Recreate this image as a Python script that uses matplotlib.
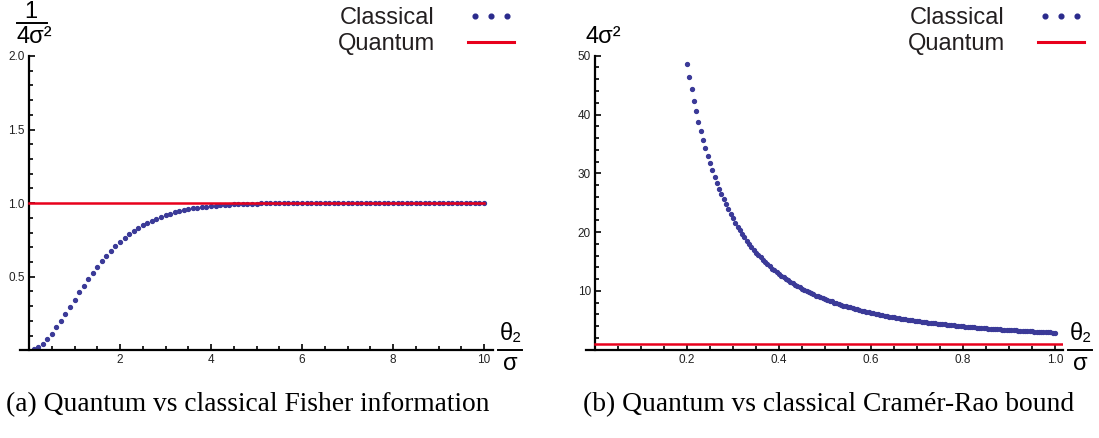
#!/usr/bin/env python3
# -*- coding: utf-8 -*-
"""
Quantum vs classical Fisher information / Cramer-Rao bound (two panels)
"""

import matplotlib
matplotlib.use('Agg')
import matplotlib.pyplot as plt
from matplotlib.lines import Line2D
from matplotlib.legend_handler import HandlerLine2D
import numpy as np

plt.rcParams['font.family'] = ['Liberation Sans', 'DejaVu Sans']

# ---- data (a): classical Fisher information, theta2/sigma = 0.1 ... 10.0
classical_fisher = [
    0.006, 0.022, 0.046, 0.077, 0.113, 0.156, 0.201, 0.249, 0.296, 0.345,
    0.394, 0.440, 0.484, 0.526, 0.566, 0.605, 0.641, 0.675, 0.707, 0.737,
    0.764, 0.789, 0.811, 0.831, 0.849, 0.866, 0.881, 0.895, 0.907, 0.918,
    0.928, 0.937, 0.945, 0.952, 0.958, 0.964, 0.969, 0.973, 0.977, 0.980,
    0.983, 0.986, 0.988, 0.990, 0.992, 0.993, 0.994, 0.995, 0.996, 0.997,
    0.998, 0.998, 0.999, 0.999, 0.999, 1.0, 1.0, 1.0, 1.0, 1.0,
    1.0, 1.0, 1.0, 1.0, 1.0, 1.0, 1.0, 1.0, 1.0, 1.0,
    1.0, 1.0, 1.0, 1.0, 1.0, 1.0, 1.0, 1.0, 1.0, 1.0,
    1.0, 1.0, 1.0, 1.0, 1.0, 1.0, 1.0, 1.0, 1.0, 1.0,
    1.0, 1.0, 1.0, 1.0, 1.0, 1.0, 1.0, 1.0, 1.0, 1.0,
]
fisher_x_range = (0.1, 10.0)
quantum_fisher_x = [0.0, 10.0]
quantum_fisher = [1.0, 1.0]

# ---- data (b): classical Cramer-Rao bound, theta2/sigma = 0.200 ... 1.000
classical_bound = [
    48.6, 46.4, 44.3, 42.3, 40.6, 38.8, 37.2, 35.7, 34.3, 32.9,
    31.8, 30.6, 29.4, 28.4, 27.4, 26.5, 25.6, 24.8, 23.9, 23.1,
    22.4, 21.6, 20.9, 20.3, 19.7, 19.1, 18.5, 18.0, 17.5, 17.0,
    16.5, 16.1, 15.7, 15.3, 14.9, 14.5, 14.2, 13.8, 13.5, 13.2,
    12.9, 12.6, 12.3, 12.0, 11.8, 11.5, 11.3, 11.0, 10.8, 10.6,
    10.4, 10.2, 10.0, 9.8, 9.6, 9.4, 9.2, 9.1, 8.9, 8.8,
    8.6, 8.5, 8.3, 8.2, 8.0, 7.9, 7.8, 7.6, 7.5, 7.4,
    7.3, 7.2, 7.1, 7.0, 6.85, 6.75, 6.65, 6.55, 6.46, 6.37,
    6.28, 6.19, 6.11, 6.02, 5.94, 5.86, 5.79, 5.71, 5.64, 5.57,
    5.50, 5.43, 5.36, 5.30, 5.23, 5.17, 5.11, 5.05, 4.99, 4.93,
    4.88, 4.82, 4.77, 4.72, 4.67, 4.62, 4.57, 4.52, 4.47, 4.42,
    4.38, 4.33, 4.29, 4.25, 4.20, 4.16, 4.12, 4.08, 4.04, 4.01,
    3.97, 3.93, 3.90, 3.86, 3.83, 3.79, 3.76, 3.72, 3.69, 3.66,
    3.63, 3.60, 3.57, 3.54, 3.51, 3.48, 3.45, 3.43, 3.40, 3.37,
    3.35, 3.32, 3.29, 3.27, 3.24, 3.22, 3.20, 3.17, 3.15, 3.13,
    3.11, 3.08, 3.06, 3.04, 3.02, 3.00, 2.98, 2.96, 2.94, 2.92,
    2.90,
]
bound_x_range = (0.2, 1.0)
quantum_bound_x = [0.0, 1.017]
quantum_bound = [1.0, 1.0]

captions = ['(a) Quantum vs classical Fisher information',
            '(b) Quantum vs classical Cramér-Rao bound']

DOT = '#3b3a98'
RED = '#e8001c'

W, H = 1099, 438
fig = plt.figure(figsize=(W / 100, H / 100), dpi=100)


def px(x, y):
    """pixel -> figure fraction"""
    return x / W, 1 - y / H


def style_axes(ax):
    for s in ['top', 'right']:
        ax.spines[s].set_visible(False)
    ax.spines['left'].set_position(('data', 0))
    for s in ['left', 'bottom']:
        ax.spines[s].set_linewidth(1.6)
    ax.tick_params(which='both', direction='in', width=1.2, colors='black',
                   labelcolor='#222222', labelsize=8.5, pad=3)
    ax.tick_params(which='major', length=4.5)
    ax.tick_params(which='minor', length=2.6)
    ax.patch.set_alpha(0)


def fraction(x0, x1, y_line, top, bottom, top_xy, bottom_xy, size=16):
    fig.add_artist(Line2D([x0 / W, x1 / W], [1 - y_line / H, 1 - y_line / H],
                          color='black', lw=1.4))
    fig.text(*px(*top_xy), top, ha='center', va='center', fontsize=size)
    fig.text(*px(*bottom_xy), bottom, ha='center', va='center', fontsize=size)


def add_legend(ax, right_px):
    h_cl = Line2D([], [], ls='none', marker='o', ms=3.4, color='#2a2a8c')
    h_qu = Line2D([], [], color=RED, lw=2.2)
    leg = ax.legend([h_cl, h_qu], ['Classical', 'Quantum'], loc='upper right',
                    bbox_to_anchor=px(right_px, 7), bbox_transform=fig.transFigure,
                    frameon=False, markerfirst=False, numpoints=3, fontsize=17,
                    handlelength=2.55, handletextpad=1.1, labelspacing=0.17,
                    borderpad=0, borderaxespad=0,
                    handler_map={h_cl: HandlerLine2D(numpoints=3, marker_pad=0.6)})
    for t in leg.get_texts():
        t.set_color('#231f20')


# ---------------- panel (a)
ax1 = fig.add_axes([19.9 / W, 1 - 350.3 / H, 473.2 / W, 294.3 / H])
x_a = np.linspace(*fisher_x_range, len(classical_fisher))
ax1.plot(x_a, classical_fisher, ls='none', marker='o', ms=2.8, color=DOT, zorder=2)
ax1.plot(quantum_fisher_x, quantum_fisher, color=RED, lw=1.8, zorder=3)
ax1.set_xlim(-0.2, 10.2)
ax1.set_ylim(0, 2.0)
ax1.set_xticks([2, 4, 6, 8, 10])
ax1.set_xticks(np.arange(0.5, 10.01, 0.5), minor=True)
ax1.set_yticks([0.5, 1.0, 1.5, 2.0])
ax1.set_yticks(np.arange(0.1, 2.001, 0.1), minor=True)
ax1.set_yticklabels(['0.5', '1.0', '1.5', '2.0'])
style_axes(ax1)
add_legend(ax1, 521)

# ---------------- panel (b)
ax2 = fig.add_axes([585.8 / W, 1 - 349.7 / H, 477.0 / W, 294.0 / H])
x_b = np.linspace(*bound_x_range, len(classical_bound))
ax2.plot(x_b, classical_bound, ls='none', marker='o', ms=2.8, color=DOT, zorder=2)
ax2.plot(quantum_bound_x, quantum_bound, color=RED, lw=1.8, zorder=3)
ax2.set_xlim(-0.02, 1.017)
ax2.set_ylim(0, 50)
ax2.set_xticks([0.2, 0.4, 0.6, 0.8, 1.0])
ax2.set_xticklabels(['0.2', '0.4', '0.6', '0.8', '1.0'])
ax2.set_xticks(np.arange(0.05, 1.001, 0.05), minor=True)
ax2.set_yticks([10, 20, 30, 40, 50])
ax2.set_yticks(np.arange(2, 50.1, 2), minor=True)
style_axes(ax2)
add_legend(ax2, 1091)

# axis labels (Mathematica style fractions)
fraction(17, 47, 23, '1', '4σ²', (31, 12), (34, 37), size=17)
fig.text(*px(603, 37), '4σ²', ha='center', va='center', fontsize=17)
fraction(498, 522, 350, 'θ₂', 'σ', (511, 334), (510, 364), size=17)
fraction(1068, 1092, 350, 'θ₂', 'σ', (1081, 334), (1080, 364), size=17)

# captions
fig.text(*px(248, 405), captions[0], ha='center', va='center',
         fontsize=19.8, family='Liberation Serif')
fig.text(*px(829, 405), captions[1], ha='center', va='center',
         fontsize=19.8, family='Liberation Serif')

fig.savefig('out.png', dpi=100)
plt.close(fig)
